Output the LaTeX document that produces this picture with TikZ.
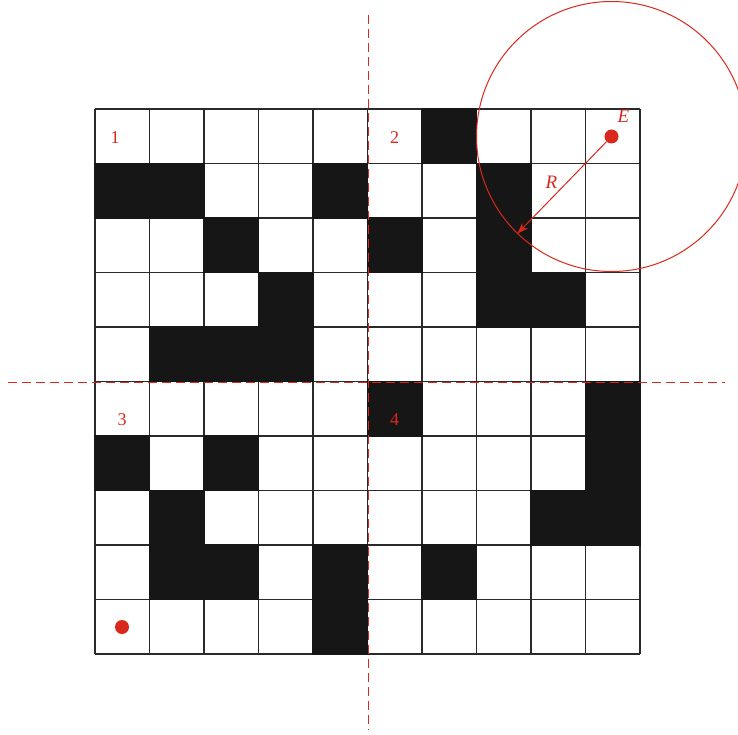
\documentclass[tikz,border=0pt]{standalone}
\usepackage{fontspec}
\setmainfont{Liberation Serif}
\usetikzlibrary{arrows.meta}
\definecolor{myred}{HTML}{D9291C}
\definecolor{cellblack}{HTML}{161616}
\definecolor{gridline}{HTML}{2A2A2A}
\begin{document}
\begin{tikzpicture}[x=1pt,y=-1pt,
  blackcell/.style={fill=cellblack},
  gridstyle/.style={draw=gridline,line width=1.2pt},
  axisline/.style={draw=myred,line width=1pt,dash pattern=on 9pt off 5pt},
  redlabel/.style={text=myred,font=\fontsize{18}{20}\selectfont,inner sep=0pt},
  reddot/.style={circle,fill=myred,minimum size=14pt,inner sep=0pt},
  radiusarrow/.style={draw=myred,line width=1pt,-{Stealth[length=11pt,width=8pt]}}]
\useasboundingbox (0,0) rectangle (738,735);
\clip (0,0) rectangle (738,735);
% grid
\foreach \i in {0,...,10}{
  \draw[gridstyle] (95+\i*54.5,109) -- (95+\i*54.5,654);
  \draw[gridstyle] (95,109+\i*54.5) -- (640,109+\i*54.5);
}
% black cells
\foreach \r/\c in {0/6,1/0,1/1,1/4,1/7,2/2,2/5,2/7,3/3,3/7,3/8,4/1,4/2,4/3,5/5,5/9,6/0,6/2,6/9,7/1,7/8,7/9,8/1,8/2,8/4,8/6,9/4}
  \fill[blackcell] (95+\c*54.5-0.6,109+\r*54.5-0.6) rectangle ++(55.7,55.7);
% dashed axes
\draw[axisline] (368,15) -- (368,730);
\draw[axisline] (8,382) -- (725,382);
% quadrant labels
\node[redlabel] (q1) at (115,137.5) {1};
\node[redlabel] (q2) at (394.5,137.5) {2};
\node[redlabel] (q3) at (122,420) {3};
\node[redlabel] (q4) at (394.5,420) {4};
% points
\node[reddot] (E) at (611.5,136.5) {};
\node[reddot] (S) at (122,627) {};
\node[redlabel,font=\fontsize{19}{20}\selectfont\itshape] (Elabel) at (623.5,116.5) {E};
% circle and radius
\draw[myred,line width=1pt] (E.center) circle[radius=135];
\coordinate (Rtip) at (517.5,233.5);
\draw[radiusarrow] (E) -- (Rtip);
\node[redlabel,font=\fontsize{19}{20}\selectfont\itshape] (Rlabel) at (551.5,182) {R};
\end{tikzpicture}
\end{document}
